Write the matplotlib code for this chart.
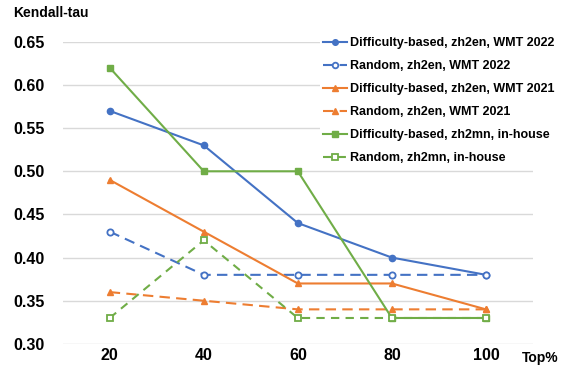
import matplotlib
matplotlib.use('Agg')
from matplotlib import pyplot as plt

plt.rcParams['font.family'] = ['Liberation Sans', 'DejaVu Sans']

top_pct = [20, 40, 60, 80, 100]
diff_zh2en_2022 = [0.57, 0.53, 0.44, 0.40, 0.38]
rand_zh2en_2022 = [0.43, 0.38, 0.38, 0.38, 0.38]
diff_zh2en_2021 = [0.49, 0.43, 0.37, 0.37, 0.34]
rand_zh2en_2021 = [0.36, 0.35, 0.34, 0.34, 0.34]
diff_zh2mn = [0.62, 0.50, 0.50, 0.33, 0.33]
rand_zh2mn = [0.33, 0.42, 0.33, 0.33, 0.33]
y_ticks = [0.30, 0.35, 0.40, 0.45, 0.50, 0.55, 0.60, 0.65]

BLUE = '#4472C4'
ORANGE = '#ED7D31'
GREEN = '#70AD47'

fig = plt.figure(figsize=(5.7, 3.67), dpi=100)
ax = fig.add_axes([0.11, 0.063, 0.825, 0.823])

ax.plot(top_pct, diff_zh2en_2022, color=BLUE, lw=1.5, marker='o', ms=4.5,
        label='Difficulty-based, zh2en, WMT 2022')
ax.plot(top_pct, rand_zh2en_2022, color=BLUE, lw=1.5, ls=(0, (5, 3)), marker='o', ms=4.5,
        mfc='white', mew=1.3, label='Random, zh2en, WMT 2022')
ax.plot(top_pct, diff_zh2en_2021, color=ORANGE, lw=1.5, marker='^', ms=4.5,
        label='Difficulty-based, zh2en, WMT 2021')
ax.plot(top_pct, rand_zh2en_2021, color=ORANGE, lw=1.5, ls=(0, (5, 3)), marker='^', ms=4.5,
        label='Random, zh2en, WMT 2021')
ax.plot(top_pct, diff_zh2mn, color=GREEN, lw=1.5, marker='s', ms=4.5,
        label='Difficulty-based, zh2mn, in-house')
ax.plot(top_pct, rand_zh2mn, color=GREEN, lw=1.5, ls=(0, (4, 3)), marker='s', ms=4.5,
        mfc='white', mew=1.3, label='Random, zh2mn, in-house')

ax.set_xlim(10, 110)
ax.set_ylim(0.30, 0.65)
ax.set_xticks(top_pct)
ax.set_xticklabels([str(v) for v in top_pct], fontsize=11.5, fontweight='bold')
ax.set_yticks(y_ticks)
ax.set_yticklabels(['%.2f' % v for v in y_ticks], fontsize=11.5, fontweight='bold')
ax.tick_params(length=0)
ax.tick_params(axis='x', pad=3)
ax.tick_params(axis='y', pad=13)
ax.grid(axis='y', color='#d9d9d9', lw=1)
ax.set_axisbelow(True)
for s in ax.spines.values():
    s.set_visible(False)

leg = ax.legend(loc='upper right', bbox_to_anchor=(1.065, 1.045), frameon=True,
                facecolor='white', edgecolor='none', framealpha=1,
                prop={'weight': 'bold', 'size': 9}, handlelength=1.9,
                handletextpad=0.3, labelspacing=0.88, borderpad=0.2,
                markerscale=0.9)

fig.text(0.023, 0.965, 'Kendall-tau', fontsize=10, fontweight='bold', va='center')
fig.text(0.916, 0.025, 'Top%', fontsize=10, fontweight='bold', va='center')

plt.savefig('out.png', dpi=100)
